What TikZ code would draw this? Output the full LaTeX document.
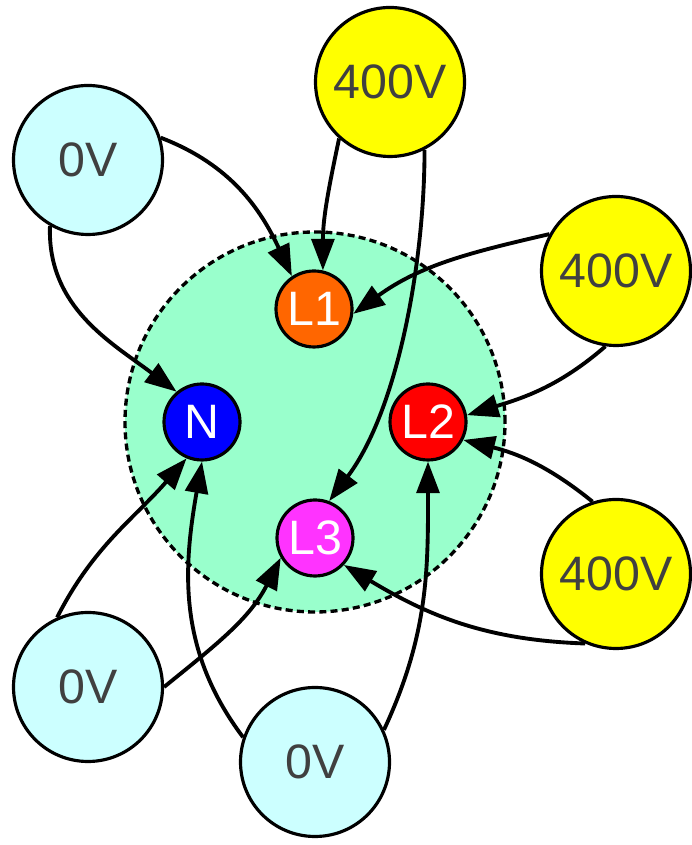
\documentclass[tikz,border=0pt]{standalone}
\usepackage{fontspec}
\setmainfont{Liberation Sans}
\usetikzlibrary{arrows.meta}
\definecolor{zerofill}{HTML}{CCFFFF}
\definecolor{hifill}{HTML}{FFFF00}
\definecolor{hubfill}{HTML}{99FFCC}
\definecolor{lone}{HTML}{FF6600}
\definecolor{ltwo}{HTML}{FF0000}
\definecolor{lthree}{HTML}{FF33FF}
\definecolor{nblue}{HTML}{0000FF}
\definecolor{txtgray}{HTML}{404040}
\tikzset{
  outer/.style={circle, draw=black, line width=1.8pt, minimum size=2.98cm, inner sep=0pt,
    text=txtgray, font=\fontsize{27.5}{31}\selectfont},
  zerov/.style={outer, fill=zerofill},
  fourv/.style={outer, fill=hifill},
  phase/.style={circle, draw=black, line width=1.8pt, minimum size=1.52cm, inner sep=0pt,
    text=white, font=\fontsize{27.5}{31}\selectfont},
  hub/.style={circle, draw=black, dash pattern=on 4pt off 2.4pt, line width=1.9pt,
    fill=hubfill, minimum size=7.6cm, inner sep=0pt},
  edge/.style={draw=black, line width=2.2pt, -{Triangle[length=18pt, width=13pt]}}
}
\begin{document}
\begin{tikzpicture}
\useasboundingbox (0,0) rectangle (13.84,16.90);
\node[hub] (hub) at (6.30,8.46) {};
\node[phase, fill=lone] (L1) at (6.28,10.72) {L1};
\node[phase, fill=nblue] (N) at (4.04,8.46) {N};
\node[phase, fill=ltwo] (L2) at (8.56,8.46) {L2};
\node[phase, fill=lthree] (L3) at (6.30,6.14) {L3};
\node[zerov] (tl) at (1.76,13.70) {0V};
\node[fourv] (top) at (7.80,15.26) {400V};
\node[fourv] (rt) at (12.32,11.48) {400V};
\node[fourv] (rb) at (12.32,5.42) {400V};
\node[zerov] (bl) at (1.76,3.16) {0V};
\node[zerov] (bt) at (6.30,1.66) {0V};
\draw[edge] (tl.17) to[out=-21, in=115] (L1.124);
\draw[edge] (tl.240) to[out=-92, in=143] (N.130);
\draw[edge] (top.228) to[out=-102, in=90] (L1.77);
\draw[edge] (top.297) to[out=-90, in=53, looseness=0.8] (L3.69);
\draw[edge] (rt.151) to[out=193, in=36] (L1.-7);
\draw[edge] (rt.262) to[out=221, in=17] (L2.10);
\draw[edge] (rb.108) to[out=141, in=-14] (L2.-27);
\draw[edge] (rb.246) to[out=178, in=-31] (L3.-43);
\draw[edge] (bl.114) to[out=63, in=229] (N.247);
\draw[edge] (bl.0) to[out=39, in=243] (L3.210);
\draw[edge] (bt.161) to[out=127, in=260] (N.270);
\draw[edge] (bt.25) to[out=65, in=-90] (L2.270);
\end{tikzpicture}
\end{document}
